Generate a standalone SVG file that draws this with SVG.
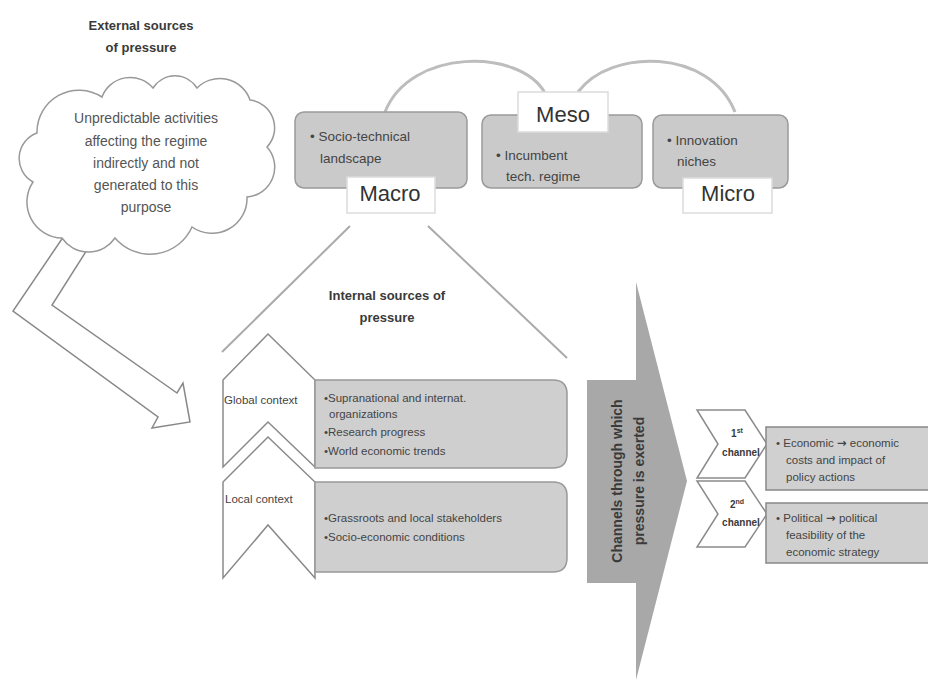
<svg xmlns="http://www.w3.org/2000/svg" width="928" height="681" viewBox="0 0 928 681">
<style>
text{font-family:"Liberation Sans",Arial,sans-serif;fill:#3a3a3a}
.h{font-weight:bold;font-size:13px;text-anchor:middle}
.cl{font-size:14px;text-anchor:middle;fill:#555}
.bx{fill:#cacaca;stroke:#9a9a9a;stroke-width:1.5}
.lb{fill:#fff;stroke:#dcdcdc;stroke-width:1.5}
.lt{font-size:22px;text-anchor:middle;fill:#333}
.bt{font-size:13.5px;fill:#444}
.sm{font-size:11.5px;fill:#444}
.ch{fill:#fff;stroke:#8a8a8a;stroke-width:1.5}
.cn{fill:none;stroke:#bdbdbd;stroke-width:3}
.ar{font-family:"DejaVu Sans",sans-serif;font-weight:bold}
</style>
<rect width="928" height="681" fill="#fff"/>

<g id="connectors">
  <path class="cn" d="M385,112 C410,48 520,48 545,93"/>
  <path class="cn" d="M578,92 C610,48 710,48 735,112"/>
  <line x1="350" y1="226" x2="222" y2="352" stroke="#aaa" stroke-width="2"/>
  <line x1="428" y1="226" x2="567" y2="358" stroke="#aaa" stroke-width="2"/>
  <polygon points="68,230 13,311 158,417 152,428 190,422 183,383 177,393 52,305 92,242" fill="#fff" stroke="#888" stroke-width="1.5"/>
</g>

<g id="external-title">
  <text class="h" x="141" y="30">External sources</text>
  <text class="h" x="141" y="52">of pressure</text>
</g>

<g id="cloud">
  <path d="M33,182 A27,27 0 0 1 37,133 A42,42 0 0 1 102,97 A30,30 0 0 1 153,88 A26,26 0 0 1 197,88 A32,32 0 0 1 250,100 A28,28 0 0 1 267,147 A30,30 0 0 1 247,197 A35,35 0 0 1 192,227 A46,46 0 0 1 115,238 A32,32 0 0 1 62,238 A36,36 0 0 1 33,182 Z" fill="#fff" stroke="#999" stroke-width="1.5"/>
  <text class="cl" x="146" y="123">Unpredictable activities</text>
  <text class="cl" x="146" y="146">affecting the regime</text>
  <text class="cl" x="146" y="168">indirectly and not</text>
  <text class="cl" x="146" y="190">generated to this</text>
  <text class="cl" x="146" y="212">purpose</text>
</g>

<g id="macro">
  <rect class="bx" x="295" y="112" width="172" height="76" rx="9"/>
  <text class="bt" x="310" y="141">• Socio-technical</text>
  <text class="bt" x="320" y="163">landscape</text>
  <rect class="lb" x="347" y="177" width="88" height="36"/>
  <text class="lt" x="390" y="201">Macro</text>
</g>

<g id="meso">
  <rect class="bx" x="482" y="115" width="160" height="73" rx="9"/>
  <text class="bt" x="496" y="160">• Incumbent</text>
  <text class="bt" x="506" y="181">tech. regime</text>
  <rect class="lb" x="518" y="92" width="90" height="40"/>
  <text class="lt" x="563" y="122">Meso</text>
</g>

<g id="micro">
  <rect class="bx" x="653" y="115" width="135" height="73" rx="9"/>
  <text class="bt" x="667" y="145">• Innovation</text>
  <text class="bt" x="677" y="166">niches</text>
  <rect class="lb" x="683" y="178" width="89" height="35"/>
  <text class="lt" x="728" y="201">Micro</text>
</g>

<g id="internal-title">
  <text class="h" x="387" y="300">Internal sources of</text>
  <text class="h" x="387" y="322">pressure</text>
</g>

<g id="global-context">
  <polygon class="ch" points="223,380 268,334 315,380 315,467 268,422 223,467" stroke="#999"/>
  <text class="sm" x="224" y="404">Global context</text>
  <path d="M315,380 H553 Q567,380 567,394 V454 Q567,468 553,468 H315 Z" fill="#cfcfcf" stroke="#999" stroke-width="1.5"/>
  <text class="sm" x="324" y="402">•Supranational and internat.</text>
  <text class="sm" x="329" y="418">organizations</text>
  <text class="sm" x="324" y="436">•Research progress</text>
  <text class="sm" x="324" y="455">•World economic trends</text>
</g>

<g id="local-context">
  <polygon class="ch" points="223,482 268,437 315,482 315,578 268,525 223,578" stroke="#999"/>
  <text class="sm" x="225" y="503">Local context</text>
  <path d="M315,482 H553 Q567,482 567,496 V558 Q567,572 553,572 H315 Z" fill="#cfcfcf" stroke="#999" stroke-width="1.5"/>
  <text class="sm" x="324" y="522">•Grassroots and local stakeholders</text>
  <text class="sm" x="324" y="541">•Socio-economic conditions</text>
</g>

<g id="channels-arrow">
  <polygon points="587,380 636,380 636,282 687,481 636,680 636,583 587,583" fill="#a8a8a8"/>
  <text transform="translate(622,481) rotate(-90)" text-anchor="middle" font-weight="bold" font-size="14" fill="#333">Channels through which</text>
  <text transform="translate(644,481) rotate(-90)" text-anchor="middle" font-weight="bold" font-size="14" fill="#333">pressure is exerted</text>
</g>

<g id="channel-1">
  <polygon class="ch" points="697,410 745,410 767,444 745,478 697,478 718,444"/>
  <text x="737" y="437" font-size="10" font-weight="bold" text-anchor="middle" fill="#444">1<tspan font-size="7" dy="-4">st</tspan></text>
  <text x="741" y="456" font-size="10" font-weight="bold" text-anchor="middle" fill="#444">channel</text>
  <rect x="766" y="427" width="175" height="63" fill="#d0d0d0" stroke="#888" stroke-width="1.5"/>
  <text class="sm" x="776" y="447" font-size="12">• Economic <tspan class="ar">→</tspan> economic</text>
  <text class="sm" x="786" y="464" font-size="12">costs and impact of</text>
  <text class="sm" x="786" y="481" font-size="12">policy actions</text>
</g>

<g id="channel-2">
  <polygon class="ch" points="697,481 745,481 767,514 745,547 697,547 718,514"/>
  <text x="737" y="508" font-size="10" font-weight="bold" text-anchor="middle" fill="#444">2<tspan font-size="7" dy="-4">nd</tspan></text>
  <text x="741" y="526" font-size="10" font-weight="bold" text-anchor="middle" fill="#444">channel</text>
  <rect x="766" y="503" width="175" height="60" fill="#d0d0d0" stroke="#888" stroke-width="1.5"/>
  <text class="sm" x="776" y="522" font-size="12">• Political <tspan class="ar">→</tspan> political</text>
  <text class="sm" x="786" y="539" font-size="12">feasibility of the</text>
  <text class="sm" x="786" y="556" font-size="12">economic strategy</text>
</g>
</svg>
